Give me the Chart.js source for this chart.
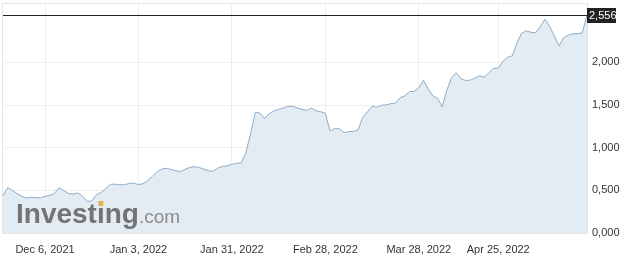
<!DOCTYPE html>
<html><head><meta charset="utf-8">
<script src="https://cdn.jsdelivr.net/npm/chart.js@4/dist/chart.umd.min.js"></script>
<style>html,body{margin:0;padding:0;background:#fff}</style>
</head><body>
<canvas id="c" width="637" height="275"></canvas>
<script>
// daily closing values (one per trading day)
const prices = [
 0.437,0.532,0.500,0.463,0.430,0.411,0.419,0.416,0.411,0.430,
 0.441,0.463,0.529,0.497,0.463,0.457,0.469,0.434,0.370,0.376,
 0.451,0.474,0.523,0.570,0.573,0.564,0.567,0.579,0.585,0.567,
 0.579,0.614,0.666,0.715,0.751,0.759,0.744,0.730,0.720,0.747,
 0.770,0.778,0.767,0.749,0.730,0.724,0.762,0.782,0.787,0.805,
 0.817,0.823,0.944,1.165,1.416,1.405,1.339,1.399,1.432,1.449,
 1.466,1.484,1.484,1.466,1.449,1.437,1.466,1.432,1.422,1.403,
 1.194,1.223,1.223,1.176,1.188,1.191,1.209,1.356,1.420,1.484,
 1.474,1.498,1.501,1.516,1.521,1.585,1.606,1.658,1.660,1.704,
 1.789,1.691,1.606,1.582,1.478,1.675,1.818,1.878,1.809,1.788,
 1.791,1.817,1.842,1.826,1.881,1.930,1.930,2.012,2.061,2.075,
 2.224,2.342,2.369,2.352,2.348,2.418,2.505,2.423,2.311,2.191,
 2.290,2.317,2.336,2.336,2.348,2.556
];
const tickPositions = [9, 29, 49, 69, 89, 106];
const tickLabels = ['Dec 6, 2021','Jan 3, 2022','Jan 31, 2022','Feb 28, 2022','Mar 28, 2022','Apr 25, 2022'];
const yTicks = [0, 0.5, 1, 1.5, 2];
const lastPrice = prices[prices.length - 1];

const FONT = '"Liberation Sans", Arial, sans-serif';
const fmt = v => v.toFixed(3).replace('.', ',');

const overlay = {
  id: 'overlay',
  beforeDatasetsDraw(chart) {
    const {ctx, chartArea: a} = chart;
    ctx.save();
    ctx.strokeStyle = '#e3e3e3';
    ctx.lineWidth = 1;
    ctx.strokeRect(a.left - 0.5, a.top - 0.5, a.right - a.left + 1, a.bottom - a.top + 1);
    ctx.restore();
  },
  afterDatasetsDraw(chart) {
    const {ctx, chartArea: a, scales: {y}} = chart;
    ctx.save();
    // watermark
    ctx.textBaseline = 'alphabetic';
    ctx.font = 'bold 28px ' + FONT;
    ctx.fillStyle = '#747474';
    const x0 = 16, base = 223;
    ctx.fillText('Investing', x0, base);
    const wInv = ctx.measureText('Investing').width;
    const wPre = ctx.measureText('Invest').width;
    const wI = ctx.measureText('i').width;
    ctx.fillStyle = '#e2b35a';
    ctx.fillRect(x0 + wPre + wI / 2 - 2.5, base - 22, 5, 5);
    ctx.font = '19px ' + FONT;
    ctx.fillStyle = '#8c8c8c';
    ctx.fillText('.com', x0 + wInv, base);
    // last price line
    const py = Math.round(y.getPixelForValue(lastPrice)) + 0.5;
    ctx.strokeStyle = '#222';
    ctx.lineWidth = 1;
    ctx.beginPath();
    ctx.moveTo(a.left, py);
    ctx.lineTo(a.right, py);
    ctx.stroke();
    ctx.fillStyle = '#222';
    ctx.fillRect(a.right, py - 7.5, 29, 15);
    ctx.fillStyle = '#fff';
    ctx.font = '11px ' + FONT;
    ctx.textBaseline = 'middle';
    ctx.fillText(fmt(lastPrice), a.right + 2, py + 0.5);
    ctx.restore();
  }
};

new Chart(document.getElementById('c'), {
  type: 'line',
  data: {
    datasets: [{
      data: prices.map((v, i) => ({x: i, y: v})),
      borderColor: '#8eacc9',
      borderWidth: 1,
      backgroundColor: '#e4ecf3',
      fill: 'origin',
      pointRadius: 0,
      tension: 0
    }]
  },
  options: {
    responsive: false,
    animation: false,
    events: [],
    layout: {padding: {left: 3, top: 4, right: 0, bottom: 0}},
    plugins: {legend: {display: false}, tooltip: {enabled: false}},
    scales: {
      x: {
        type: 'linear',
        min: 0,
        max: prices.length - 1,
        afterBuildTicks: s => { s.ticks = tickPositions.map(v => ({value: v})); },
        afterFit: s => { s.height = 42; s.paddingLeft = 0; s.paddingRight = 0; },
        grid: {color: '#efefef', drawTicks: false},
        border: {display: false},
        ticks: {
          autoSkip: false, maxRotation: 0, padding: 10,
          color: '#333', font: {family: FONT, size: 11},
          callback: v => tickLabels[tickPositions.indexOf(v)]
        }
      },
      y: {
        position: 'right',
        min: 0,
        max: 2.684,
        afterBuildTicks: s => { s.ticks = yTicks.map(v => ({value: v})); },
        afterFit: s => { s.width = 50; s.paddingTop = 0; s.paddingBottom = 0; },
        grid: {color: '#efefef', drawTicks: false},
        border: {display: false},
        ticks: {
          padding: 5, color: '#333', font: {family: FONT, size: 11},
          callback: v => fmt(v)
        }
      }
    }
  },
  plugins: [overlay]
});
</script>
</body></html>
